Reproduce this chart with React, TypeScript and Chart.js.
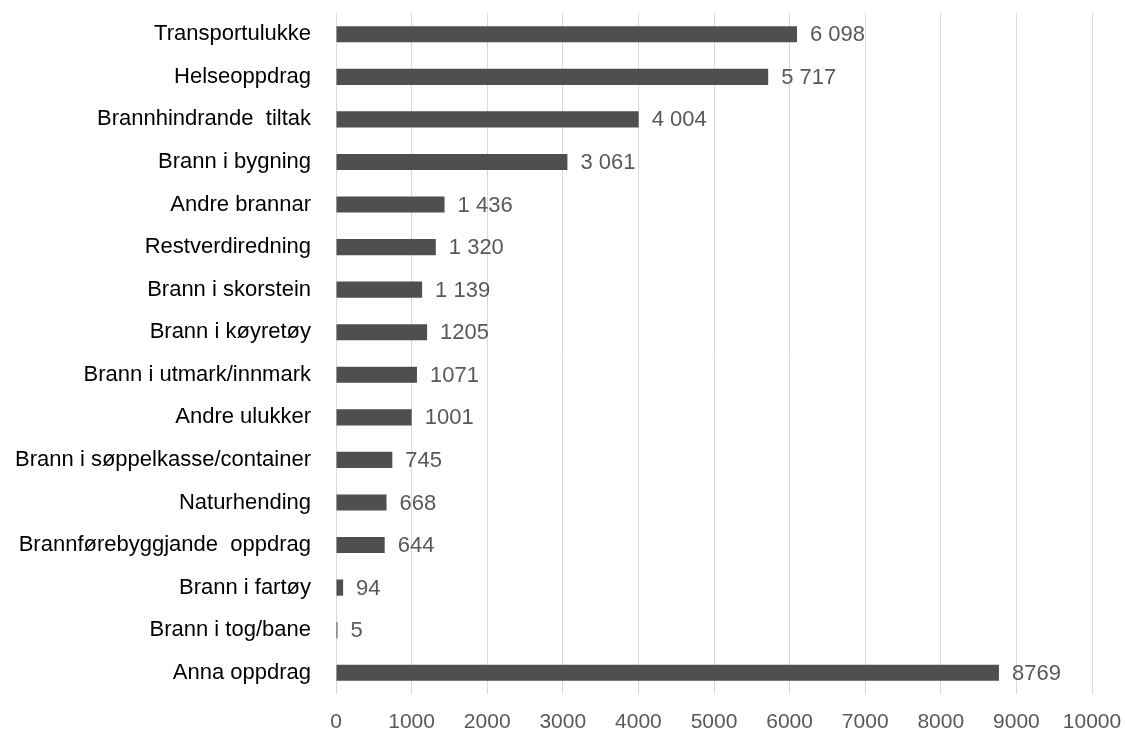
import React, { useEffect, useRef } from "react";
import { Chart, registerables } from "chart.js";

Chart.register(...registerables);

const categories = [
  "Transportulukke",
  "Helseoppdrag",
  "Brannhindrande  tiltak",
  "Brann i bygning",
  "Andre brannar",
  "Restverdiredning",
  "Brann i skorstein",
  "Brann i køyretøy",
  "Brann i utmark/innmark",
  "Andre ulukker",
  "Brann i søppelkasse/container",
  "Naturhending",
  "Brannførebyggjande  oppdrag",
  "Brann i fartøy",
  "Brann i tog/bane",
  "Anna oppdrag",
];

const values = [6098, 5717, 4004, 3061, 1436, 1320, 1139, 1205, 1071, 1001, 745, 668, 644, 94, 5, 8769];

const valueLabels = [
  "6 098", "5 717", "4 004", "3 061", "1 436", "1 320", "1 139", "1205",
  "1071", "1001", "745", "668", "644", "94", "5", "8769",
];

const FONT = "'Liberation Sans', Arial, Helvetica, sans-serif";

const valueLabelPlugin = {
  id: "valueLabels",
  afterDatasetsDraw(chart: any) {
    const ctx = chart.ctx;
    const meta = chart.getDatasetMeta(0);
    ctx.save();
    ctx.font = `22px ${FONT}`;
    ctx.fillStyle = "#595959";
    ctx.textAlign = "left";
    ctx.textBaseline = "middle";
    meta.data.forEach((bar: any, i: number) => {
      ctx.fillText(valueLabels[i], bar.x + 13, bar.y + 1);
    });
    ctx.restore();
  },
};

export default function App() {
  const ref = useRef<HTMLCanvasElement | null>(null);

  useEffect(() => {
    if (!ref.current) return;
    const chart = new Chart(ref.current, {
      type: "bar",
      data: {
        labels: categories,
        datasets: [
          {
            data: values,
            backgroundColor: "#4f4f4f",
            borderWidth: 0,
            barPercentage: 0.38,
            categoryPercentage: 1,
            minBarLength: 1.5,
          },
        ],
      },
      options: {
        indexAxis: "y",
        animation: false,
        responsive: false,
        maintainAspectRatio: false,
        layout: { padding: { top: 13, right: 33, left: 0, bottom: 0 } },
        plugins: {
          legend: { display: false },
          title: { display: false },
          tooltip: { enabled: false },
        },
        scales: {
          x: {
            min: 0,
            max: 10000,
            ticks: {
              stepSize: 1000,
              color: "#595959",
              font: { family: FONT, size: 21 },
              padding: 16,
              maxRotation: 0,
              callback: (v: any) => String(v),
            },
            grid: { color: "#d9d9d9", lineWidth: 1, drawTicks: false },
            border: { display: false },
            afterFit: (scale: any) => {
              scale.height = 37;
              scale.paddingLeft = 0;
              scale.paddingRight = 0;
              scale.paddingTop = 0;
              scale.paddingBottom = 0;
            },
          },
          y: {
            ticks: {
              color: "#000000",
              font: { family: FONT, size: 22 },
              padding: 25,
            },
            grid: { display: false, drawTicks: false },
            border: { display: false },
            afterFit: (scale: any) => {
              scale.width = 336;
              scale.paddingLeft = 0;
              scale.paddingRight = 0;
              scale.paddingTop = 0;
              scale.paddingBottom = 0;
            },
          },
        },
      },
      plugins: [valueLabelPlugin],
    });
    return () => chart.destroy();
  }, []);

  return (
    <div style={{ position: "fixed", left: 0, top: 0, width: 1125, height: 731, background: "#fff" }}>
      <canvas ref={ref} width={1125} height={731} style={{ display: "block", width: 1125, height: 731 }} />
    </div>
  );
}
